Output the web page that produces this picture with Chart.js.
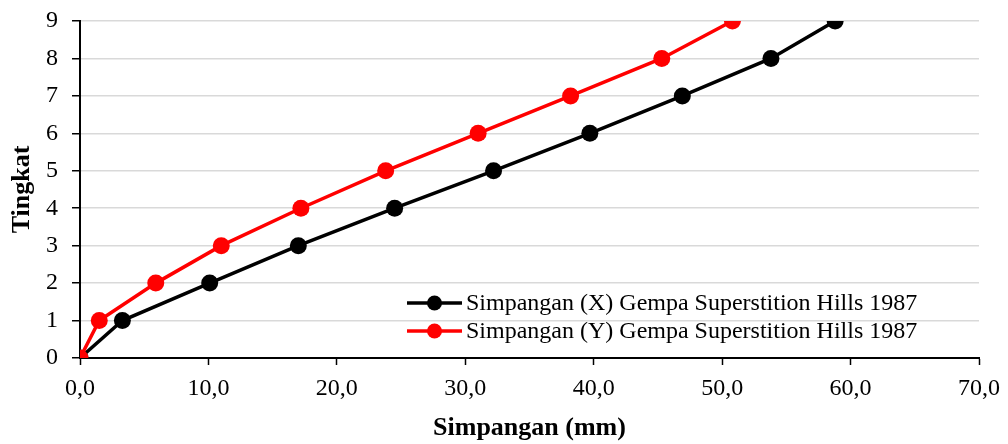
<!DOCTYPE html>
<html>
<head>
<meta charset="utf-8">
<script src="https://cdn.jsdelivr.net/npm/chart.js@4.4.1/dist/chart.umd.min.js"></script>
<style>
  html, body { margin: 0; padding: 0; background: #ffffff; }
  #wrap { width: 1008px; height: 444px; position: relative; }
</style>
</head>
<body>
<div id="wrap"><canvas id="c" width="1008" height="444"></canvas></div>
<script>
const levels = [0, 1, 2, 3, 4, 5, 6, 7, 8, 9];
const dispX = [0, 3.3, 10.1, 17.0, 24.5, 32.2, 39.7, 46.9, 53.8, 58.8];
const dispY = [0, 1.5, 5.9, 11.0, 17.2, 23.8, 31.0, 38.2, 45.3, 50.8];
const seriesNames = [
  'Simpangan (X) Gempa Superstition Hills 1987',
  'Simpangan (Y) Gempa Superstition Hills 1987'
];
const seriesColors = ['#000000', '#ff0000'];
const xTickLabels = ['0,0', '10,0', '20,0', '30,0', '40,0', '50,0', '60,0', '70,0'];
const yTickLabels = ['0', '1', '2', '3', '4', '5', '6', '7', '8', '9'];
const xTitle = 'Simpangan (mm)';
const yTitle = 'Tingkat';

const FONT = '"Liberation Serif", "Times New Roman", serif';

function pts(xs) { return xs.map((x, i) => ({ x: x, y: levels[i] })); }

const legendPlugin = {
  id: 'inlineLegend',
  afterDatasetsDraw(chart) {
    const ctx = chart.ctx;
    const ca = chart.chartArea;
    const rows = [ca.bottom - 55, ca.bottom - 27];
    ctx.save();
    seriesNames.forEach((name, i) => {
      const y = rows[i];
      const x0 = 407, x1 = 462;
      ctx.strokeStyle = seriesColors[i];
      ctx.lineWidth = 3.5;
      ctx.beginPath(); ctx.moveTo(x0, y); ctx.lineTo(x1, y); ctx.stroke();
      ctx.fillStyle = seriesColors[i];
      ctx.beginPath(); ctx.arc((x0 + x1) / 2, y, 7.5, 0, Math.PI * 2); ctx.fill();
      ctx.fillStyle = '#000000';
      ctx.font = '24px ' + FONT;
      ctx.textAlign = 'left';
      ctx.textBaseline = 'middle';
      ctx.fillText(name, 466, y + 1);
    });
    ctx.restore();
  }
};

new Chart(document.getElementById('c'), {
  type: 'scatter',
  data: {
    datasets: [
      {
        label: seriesNames[0],
        data: pts(dispX),
        showLine: true,
        borderColor: seriesColors[0],
        backgroundColor: seriesColors[0],
        borderWidth: 3.5,
        pointRadius: 8.5,
        pointHoverRadius: 8.5,
        pointBorderWidth: 0,
        order: 1
      },
      {
        label: seriesNames[1],
        data: pts(dispY),
        showLine: true,
        borderColor: seriesColors[1],
        backgroundColor: seriesColors[1],
        borderWidth: 3.5,
        pointRadius: 8.5,
        pointHoverRadius: 8.5,
        pointBorderWidth: 0,
        order: 0
      }
    ]
  },
  options: {
    responsive: false,
    animation: false,
    devicePixelRatio: 1,
    layout: { padding: { left: 0, right: 29, top: 21, bottom: 0 } },
    plugins: {
      legend: { display: false },
      tooltip: { enabled: false }
    },
    scales: {
      x: {
        type: 'linear',
        min: 0, max: 70,
        afterFit(s) { s.height = 86; s.paddingLeft = 0; s.paddingRight = 0; },
        border: { display: true, color: '#000000', width: 2 },
        grid: { display: true, drawOnChartArea: false, drawTicks: true, tickLength: 7, tickColor: '#000000', tickWidth: 1.5 },
        ticks: {
          stepSize: 10,
          padding: 9,
          color: '#000000',
          font: { family: FONT, size: 24 },
          maxRotation: 0,
          callback: (v) => xTickLabels[Math.round(v / 10)]
        },
        title: {
          display: true, text: xTitle, color: '#000000',
          font: { family: FONT, size: 26, weight: 'bold' },
          padding: { top: 0, bottom: 0 }
        }
      },
      y: {
        type: 'linear',
        min: 0, max: 9,
        afterFit(s) { s.width = 80; s.paddingTop = 0; s.paddingBottom = 0; },
        border: { display: true, color: '#000000', width: 2 },
        grid: { display: true, color: '#d9d9d9', lineWidth: 1.5, drawTicks: true, tickLength: 8, tickColor: '#000000', tickWidth: 1.5 },
        ticks: {
          stepSize: 1,
          padding: 14,
          color: '#000000',
          font: { family: FONT, size: 24 },
          callback: (v) => yTickLabels[v]
        },
        title: {
          display: true, text: yTitle, color: '#000000',
          font: { family: FONT, size: 26, weight: 'bold' },
          padding: { top: 7, bottom: 0 }
        }
      }
    }
  },
  plugins: [legendPlugin]
});
</script>
</body>
</html>
